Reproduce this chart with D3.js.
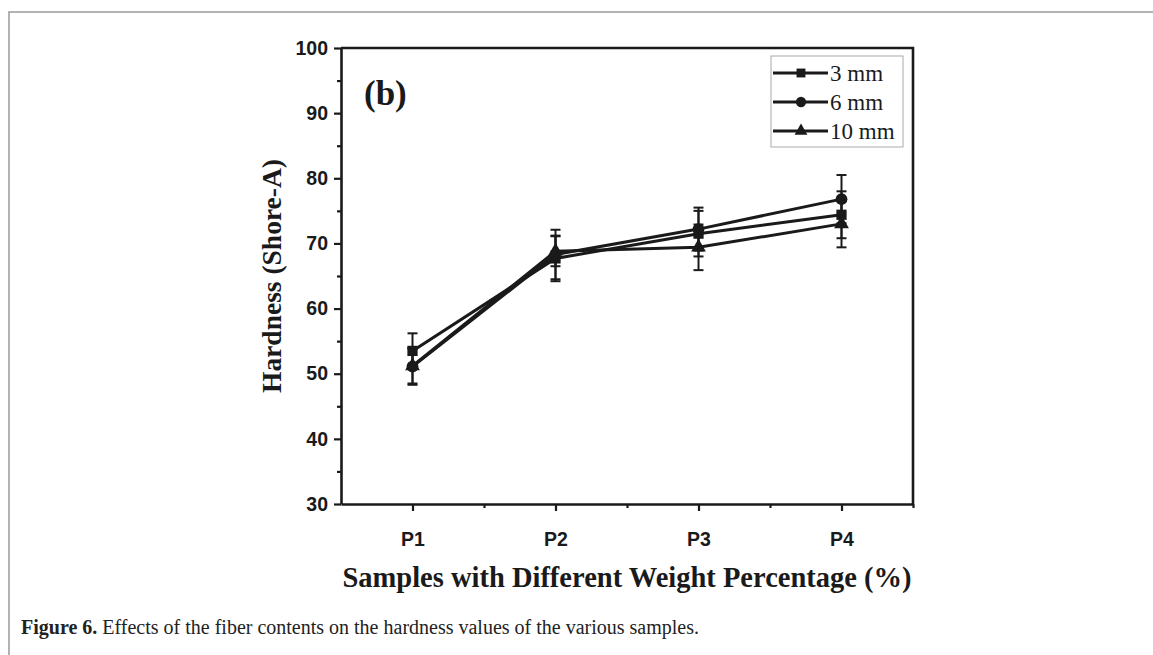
<!DOCTYPE html>
<html>
<head>
<meta charset="utf-8">
<script src="https://d3js.org/d3.v7.min.js"></script>
<style>
  body { margin: 0; background: #fff; }
  svg { display: block; }
</style>
</head>
<body>
<script>
// categories and hardness values
var categories = ["P1", "P2", "P3", "P4"];
var hard3  = [53.5, 67.7, 71.5, 74.4];
var err3   = [2.7, 3.5, 3.5, 3.6];
var hard6  = [51.1, 68.3, 72.2, 76.8];
var err6   = [2.8, 3.8, 3.3, 3.7];
var hard10 = [51.2, 68.8, 69.4, 73.0];
var err10  = [2.7, 2.3, 3.5, 3.6];
var seriesNames = ["3 mm", "6 mm", "10 mm"];
var yTicks = [30, 40, 50, 60, 70, 80, 90, 100];
var yMinor = [35, 45, 55, 65, 75, 85, 95];

var W = 1153, H = 655;
var margin = {top: 48, left: 341, right: 240, bottom: 151};

var svg = d3.select("body").append("svg")
    .attr("width", W)
    .attr("height", H);

// page frame (top and left rule)
svg.append("path")
    .attr("d", "M9,655 V12 H1153")
    .attr("fill", "none")
    .attr("stroke", "#999")
    .attr("stroke-width", 1.5);

// scales
var x = d3.scaleLinear().domain([0.5, 4.5]).range([margin.left, W - margin.right]);
var y = d3.scaleLinear().domain([30, 100]).range([H - margin.bottom, margin.top]);

var series = [
  {name: seriesNames[0], vals: hard3,  errs: err3,  sym: d3.symbolSquare,   size: 105},
  {name: seriesNames[1], vals: hard6,  errs: err6,  sym: d3.symbolCircle,   size: 110},
  {name: seriesNames[2], vals: hard10, errs: err10, sym: d3.symbolTriangle, size: 95}
];

var g = svg.append("g");

// error bars
series.forEach(function(s) {
  s.vals.forEach(function(v, i) {
    var cx = x(i + 1), lo = y(v - s.errs[i]), hi = y(v + s.errs[i]);
    g.append("line").attr("x1", cx).attr("x2", cx).attr("y1", lo).attr("y2", hi)
      .attr("stroke", "#1a1a1a").attr("stroke-width", 2);
    [lo, hi].forEach(function(yy) {
      g.append("line").attr("x1", cx - 5).attr("x2", cx + 5).attr("y1", yy).attr("y2", yy)
        .attr("stroke", "#1a1a1a").attr("stroke-width", 2);
    });
  });
});

// lines
var line = d3.line()
    .x(function(d, i) { return x(i + 1); })
    .y(function(d) { return y(d); });

series.forEach(function(s) {
  g.append("path")
    .datum(s.vals)
    .attr("fill", "none")
    .attr("stroke", "#1a1a1a")
    .attr("stroke-width", 3)
    .attr("d", line);
});

// markers
series.forEach(function(s) {
  g.selectAll(null)
    .data(s.vals)
    .enter().append("path")
    .attr("d", d3.symbol().type(s.sym).size(s.size))
    .attr("transform", function(d, i) { return "translate(" + x(i + 1) + "," + y(d) + ")"; })
    .attr("fill", "#1a1a1a");
});

// axes
var axisColor = "#1a1a1a";
function styleAxis(sel) {
  sel.selectAll(".domain").attr("stroke", axisColor).attr("stroke-width", 2.6);
  sel.selectAll(".tick line").attr("stroke", axisColor).attr("stroke-width", 2.2);
  sel.selectAll(".tick text")
    .attr("fill", "#1a1a1a")
    .style("font-family", "'Liberation Sans', Arial, sans-serif")
    .style("font-weight", "bold")
    .style("font-size", "19.5px");
}

var yAxis = svg.append("g")
    .attr("transform", "translate(" + margin.left + ",0)")
    .call(d3.axisLeft(y).tickValues(yTicks).tickSize(7).tickSizeOuter(0).tickPadding(6));
styleAxis(yAxis);

var yAxisMinor = svg.append("g")
    .attr("transform", "translate(" + margin.left + ",0)")
    .call(d3.axisLeft(y).tickValues(yMinor).tickSize(4).tickFormat(""));
styleAxis(yAxisMinor);
yAxisMinor.select(".domain").remove();

var xAxis = svg.append("g")
    .attr("transform", "translate(0," + (H - margin.bottom) + ")")
    .call(d3.axisBottom(x).tickValues([1, 2, 3, 4]).tickSize(7).tickSizeOuter(0).tickPadding(21)
      .tickFormat(function(d) { return categories[d - 1]; }));
styleAxis(xAxis);

var xAxisMinor = svg.append("g")
    .attr("transform", "translate(0," + (H - margin.bottom) + ")")
    .call(d3.axisBottom(x).tickValues([1.5, 2.5, 3.5, 4.5]).tickSize(4).tickFormat(""));
styleAxis(xAxisMinor);
xAxisMinor.select(".domain").remove();

// top and right frame of plot
svg.append("path")
    .attr("d", "M" + x.range()[0] + "," + y.range()[1] + " H" + x.range()[1] + " V" + y.range()[0])
    .attr("fill", "none")
    .attr("stroke", axisColor)
    .attr("stroke-width", 2.6);

// axis titles
svg.append("text")
    .attr("transform", "translate(281," + ((y.range()[0] + y.range()[1]) / 2) + ") rotate(-90)")
    .attr("text-anchor", "middle")
    .style("font-family", "'Liberation Serif', 'Times New Roman', serif")
    .style("font-weight", "bold")
    .style("font-size", "27.5px")
    .attr("fill", "#1a1a1a")
    .text("Hardness (Shore-A)");

svg.append("text")
    .attr("x", (x.range()[0] + x.range()[1]) / 2)
    .attr("y", 587)
    .attr("text-anchor", "middle")
    .style("font-family", "'Liberation Serif', 'Times New Roman', serif")
    .style("font-weight", "bold")
    .style("font-size", "28.5px")
    .attr("fill", "#1a1a1a")
    .text("Samples with Different Weight Percentage (%)");

// panel label
svg.append("text")
    .attr("x", 364)
    .attr("y", 105)
    .style("font-family", "'Liberation Serif', 'Times New Roman', serif")
    .style("font-weight", "bold")
    .style("font-size", "35px")
    .attr("fill", "#1a1a1a")
    .text("(b)");

// legend
var legend = svg.append("g").attr("transform", "translate(771,56)");
legend.append("rect")
    .attr("width", 132).attr("height", 91)
    .attr("fill", "#fff").attr("stroke", "#aaa").attr("stroke-width", 1);

series.forEach(function(s, i) {
  var row = legend.append("g").attr("transform", "translate(0," + (17 + i * 29) + ")");
  row.append("line").attr("x1", 2).attr("x2", 57).attr("y1", 0).attr("y2", 0)
    .attr("stroke", "#1a1a1a").attr("stroke-width", 2.8);
  row.append("path")
    .attr("d", d3.symbol().type(s.sym).size(s.size * 0.75))
    .attr("transform", "translate(30,0)")
    .attr("fill", "#1a1a1a");
  row.append("text")
    .attr("x", 59).attr("y", 8)
    .style("font-family", "'Liberation Serif', 'Times New Roman', serif")
    .style("font-size", "23px")
    .attr("fill", "#1a1a1a")
    .text(s.name);
});

// caption
var cap = svg.append("text")
    .attr("x", 21).attr("y", 634)
    .style("font-family", "'Liberation Serif', 'Times New Roman', serif")
    .style("font-size", "20px")
    .attr("fill", "#222");
cap.append("tspan").style("font-weight", "bold").text("Figure 6.");
cap.append("tspan").text(" Effects of the fiber contents on the hardness values of the various samples.");
</script>
</body>
</html>
